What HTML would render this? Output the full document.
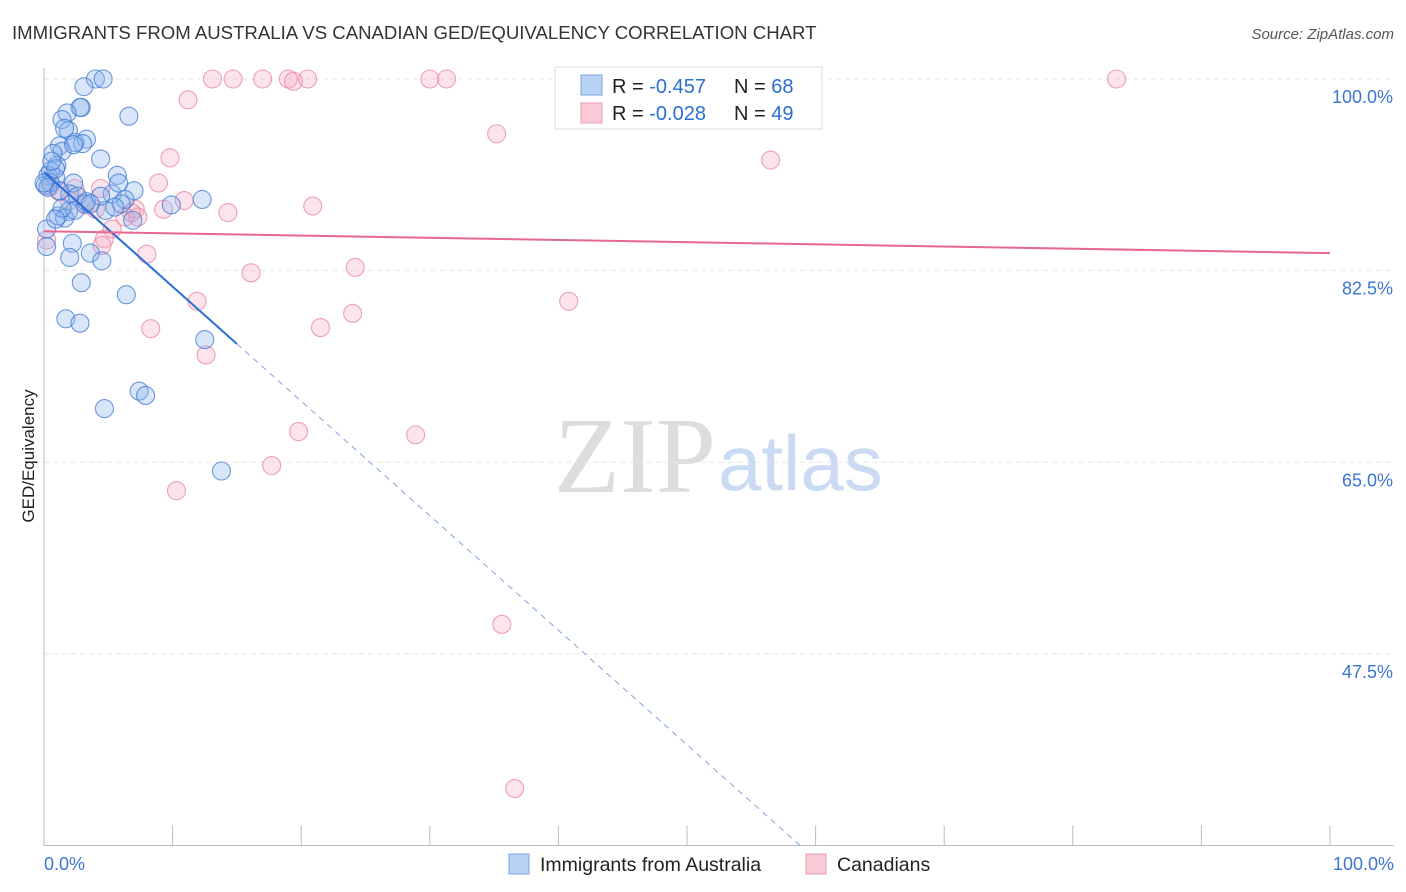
<!DOCTYPE html>
<html><head><meta charset="utf-8"><style>
body{margin:0;background:#fff;font-family:"Liberation Sans",sans-serif;}
svg{display:block}
</style></head><body>
<svg id="chart" width="1406" height="892">
<text x="12" y="39" font-size="18.6" fill="#333">IMMIGRANTS FROM AUSTRALIA VS CANADIAN GED/EQUIVALENCY CORRELATION CHART</text>
<text x="1394" y="39" font-size="15" fill="#555" text-anchor="end" font-style="italic">Source: ZipAtlas.com</text>
<text x="716" y="492" font-size="108" fill="#ddd" text-anchor="end" font-family="Liberation Serif,serif">ZIP</text>
<text x="718" y="490" font-size="78" fill="#c9daf2">atlas</text>
<text transform="translate(34,456) rotate(-90)" font-size="17" fill="#222" text-anchor="middle">GED/Equivalency</text>
<g id="grid"></g><g id="pts"></g><g id="lines"></g>
<g>
<rect x="555" y="67" width="267" height="62" fill="#fff" stroke="#ddd"/>
<rect x="581" y="75" width="21" height="20" fill="#b9d3f6" stroke="#7aa6e0"/>
<rect x="581" y="103" width="21" height="20" fill="#fbc8d6" stroke="#eb9ab2"/>
<text x="612" y="93" font-size="20" fill="#222">R = <tspan fill="#2b6fd6">-0.457</tspan><tspan x="734">N = </tspan><tspan fill="#2b6fd6">68</tspan></text>
<text x="612" y="120" font-size="20" fill="#222">R = <tspan fill="#2b6fd6">-0.028</tspan><tspan x="734">N = </tspan><tspan fill="#2b6fd6">49</tspan></text>
</g>
<g>
<rect x="509" y="854" width="20" height="20" fill="#b9d3f6" stroke="#7aa6e0"/>
<text x="540" y="871" font-size="19.5" fill="#222">Immigrants from Australia</text>
<rect x="806" y="854" width="20" height="20" fill="#fbc8d6" stroke="#eb9ab2"/>
<text x="837" y="871" font-size="19.5" fill="#222">Canadians</text>
</g>
<text x="44" y="870" font-size="18" fill="#3a76d4">0.0%</text>
<text x="1394" y="870" font-size="18" fill="#3a76d4" text-anchor="end">100.0%</text>
</svg>
<script>
const yTicks=[100,82.5,65,47.5];
const yTickLabels=["100.0%","82.5%","65.0%","47.5%"];
const xTicks=[0,10,20,30,40,50,60,70,80,90,100];
const blueX=[4.0,4.6,3.1,2.9,2.8,1.8,6.6,1.4,1.9,3.3,2.4,3.0,1.2,1.4,0.7,4.4,1.0,5.7,0.3,0.9,0.5,2.3,0.1,7.0,5.3,2.0,2.6,6.3,12.3,9.9,6.0,3.2,4.8,1.9,1.1,1.6,6.9,0.2,2.2,3.6,2.0,4.5,2.9,6.4,1.7,2.8,12.5,7.4,7.9,4.7,13.8,0.2,0.5,0.9,0.3,0.0,1.2,2.4,1.4,0.9,3.3,4.4,5.5,2.3,1.6,5.8,3.6,0.6];
const blueY=[100,100,99.3,97.4,97.4,96.9,96.6,96.3,95.3,94.5,94.2,94.1,93.9,93.4,93.2,92.7,92.1,91.2,91.2,91.0,90.5,90.5,90.3,89.8,89.5,89.5,89.3,89.0,89.0,88.5,88.6,88.6,88.0,87.9,87.5,87.3,87.1,86.3,85.0,84.1,83.7,83.4,81.4,80.3,78.1,77.7,76.2,71.5,71.1,69.9,64.2,84.7,91.6,91.8,90.1,90.5,89.8,88.0,88.2,87.2,88.8,89.3,88.3,94.0,95.5,90.5,88.6,92.5];
const pinkX=[13.1,14.7,17.0,19.0,19.4,20.5,30.0,31.3,47.7,83.4,11.2,35.2,9.8,56.5,8.9,4.4,14.3,10.9,20.9,9.3,7.1,0.5,2.4,4.0,3.2,6.3,7.3,5.3,4.7,4.5,8.0,16.1,24.2,11.9,40.8,8.3,21.5,24.0,12.6,19.8,28.9,17.7,10.3,35.6,36.6,0.2,2.0,1.2,6.8];
const pinkY=[100,100,100,100,99.8,100,100,100,100,100,98.1,95.0,92.8,92.6,90.5,90.0,87.8,88.9,88.4,88.1,88.1,90.2,90.0,88.1,88.5,87.4,87.4,86.3,85.4,84.8,84.0,82.3,82.8,79.7,79.7,77.2,77.3,78.6,74.8,67.8,67.5,64.7,62.4,50.2,35.2,85.3,88.9,89.7,87.8];
const blueTrend=[91.5,-1.046];   // intercept (%), slope per x%
const pinkTrend=[86.1,-0.20];
const X=v=>44+v*12.86, Y=v=>79+(100-v)*10.95;
const NS="http://www.w3.org/2000/svg";
function mk(t,a,p){const e=document.createElementNS(NS,t);for(const k in a)e.setAttribute(k,a[k]);p.appendChild(e);return e;}
const grid=document.getElementById('grid');
const gl=mk('line',{x1:44,y1:Y(100),x2:1394,y2:Y(100),stroke:'#ddd','stroke-dasharray':'5,4'},grid);


yTicks.forEach((v,i)=>{
 const l=mk('line',{x1:44,y1:Y(v),x2:1394,y2:Y(v),stroke:'#e6e6e6','stroke-dasharray':'5,4'},grid);
 
 
 const t=mk('text',{x:1393,y:Y(v)+24,'font-size':18,fill:'#3a76d4','text-anchor':'end'},grid);
 t.textContent=yTickLabels[i];
 
 
});
const ax=mk('line',{x1:44,y1:Y(30),x2:1394,y2:Y(30),stroke:'#bbb'},grid);


const ay=mk('line',{x1:44,y1:68,x2:44,y2:Y(30),stroke:'#bbb'},grid);


xTicks.forEach(v=>{const t=mk('line',{x1:X(v),y1:Y(30)-20,x2:X(v),y2:Y(30),stroke:'#bbb'},grid);
 
 });
const pts=document.getElementById('pts');
pinkX.forEach((x,i)=>{const c=mk('circle',{cx:X(x),cy:Y(pinkY[i]),r:9,fill:'rgba(246,167,192,0.3)',stroke:'rgba(232,130,162,0.75)','stroke-width':1.1},pts);
 
 });
blueX.forEach((x,i)=>{const c=mk('circle',{cx:X(x),cy:Y(blueY[i]),r:9,fill:'rgba(140,180,236,0.33)',stroke:'rgba(60,120,210,0.75)','stroke-width':1.1},pts);
 
 });
const lines=document.getElementById('lines');
const bt=v=>blueTrend[0]+blueTrend[1]*v;
const l1=mk('line',{x1:X(0),y1:Y(bt(0)),x2:X(15),y2:Y(bt(15)),stroke:'#2a6fd6','stroke-width':2},lines);


const xEnd=(30-blueTrend[0])/blueTrend[1];
const l2=mk('line',{x1:X(15),y1:Y(bt(15)),x2:X(xEnd),y2:Y(30),stroke:'#7fa6dc','stroke-width':1,'stroke-dasharray':'6,5'},lines);


const pt=v=>pinkTrend[0]+pinkTrend[1]*v/10;
const l3=mk('line',{x1:X(0),y1:Y(pt(0)),x2:X(100),y2:Y(pt(100)),stroke:'#e5688f','stroke-width':2},lines);


</script>
</body></html>
